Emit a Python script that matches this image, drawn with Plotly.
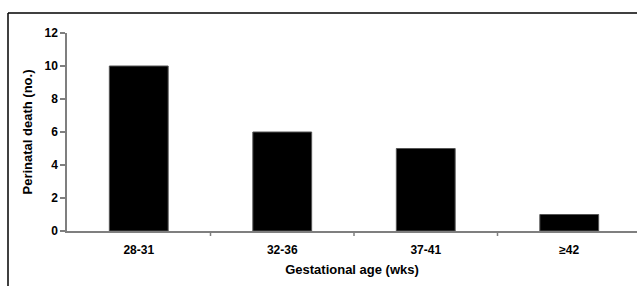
import plotly.graph_objects as go

categories = ["28-31", "32-36", "37-41", "≥42"]
deaths = [10, 6, 5, 1]
y_ticks = [0, 2, 4, 6, 8, 10, 12]

W, H = 637, 286
L, R, T, B = 67, 0, 33, 55
pw = W - L - R
ph = H - T - B
cat_px = 143.5
x_hi = -0.5 + pw / cat_px

tick_font = dict(family="Liberation Sans, Arial, sans-serif", size=12, color="black")
title_font = dict(family="Liberation Sans, Arial, sans-serif", size=13, color="black")

fig = go.Figure(go.Bar(
    x=list(range(len(categories))), y=deaths,
    marker=dict(color="black", line=dict(color="#555555", width=1)),
    width=0.41,
))

def px_to_paper_x(px):
    return (px - L) / pw

def px_to_paper_y(py):
    return (H - B - py) / ph

fig.update_layout(
    width=W, height=H,
    margin=dict(l=L, r=R, t=T, b=B),
    paper_bgcolor="white", plot_bgcolor="white",
    showlegend=False,
    font=tick_font,
    xaxis=dict(
        range=[-0.5, x_hi],
        tickmode="array",
        tickvals=list(range(len(categories))),
        ticktext=["<b>%s</b>" % c for c in categories],
        tickfont=tick_font,
        showgrid=False, zeroline=False,
        showline=True, linecolor="#7f7f7f", linewidth=1.5,
        ticks="", ticklabelstandoff=7,
        title=dict(text="<b>Gestational age (wks)</b>", standoff=9, font=title_font),
    ),
    yaxis=dict(
        range=[0, 12],
        tickvals=y_ticks,
        ticktext=["<b>%d</b>" % v for v in y_ticks],
        tickfont=tick_font,
        showgrid=False, zeroline=False,
        showline=True, linecolor="#7f7f7f", linewidth=1.5,
        ticks="outside", ticklen=5, tickcolor="#7f7f7f", tickwidth=1.5,
        title=dict(text="<b>Perinatal death (no.)</b>", standoff=9, font=title_font),
    ),
)

# category boundary ticks on x axis
for b in [0.5, 1.5, 2.5]:
    fig.add_shape(type="line", xref="x", yref="paper",
                  x0=b, x1=b, y0=0, y1=px_to_paper_y(H - B + 5),
                  line=dict(color="#7f7f7f", width=1.5))

# outer frame (left and top edges)
fig.add_shape(type="line", xref="paper", yref="paper",
              x0=px_to_paper_x(8), x1=px_to_paper_x(8),
              y0=px_to_paper_y(13), y1=px_to_paper_y(H + 5),
              line=dict(color="black", width=1.5))
fig.add_shape(type="line", xref="paper", yref="paper",
              x0=px_to_paper_x(8), x1=px_to_paper_x(W + 5),
              y0=px_to_paper_y(13), y1=px_to_paper_y(13),
              line=dict(color="black", width=1.5))

fig.write_html("out.html", config={"displayModeBar": False})

# remove default body margin so the figure sits at the page origin
with open("out.html", "r", encoding="utf-8") as f:
    html = f.read()
html = html.replace("<body>", '<body style="margin:0;overflow:hidden">', 1)
with open("out.html", "w", encoding="utf-8") as f:
    f.write(html)
